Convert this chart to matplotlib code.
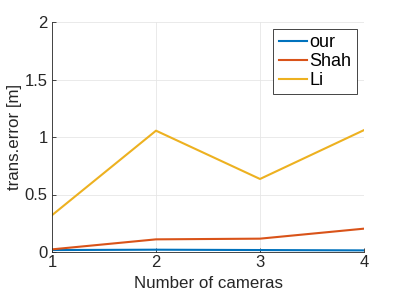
import matplotlib
matplotlib.use("Agg")
import matplotlib.pyplot as plt

cameras = [1, 2, 3, 4]
our = [0.017, 0.020, 0.017, 0.014]
shah = [0.023, 0.11, 0.116, 0.203]
li = [0.32, 1.055, 0.635, 1.06]
yticks = [0, 0.5, 1, 1.5, 2]
ytick_labels = ["0", "0.5", "1", "1.5", "2"]

plt.rcParams['font.family'] = ['Liberation Sans', 'DejaVu Sans']
fig = plt.figure(figsize=(4.03, 2.97), dpi=100)
ax = fig.add_axes([52/403, 1-252/297, (364-52)/403, (252-22)/297])

ax.plot(cameras, our, color='#0072BD', lw=1.5, label='our')
ax.plot(cameras, shah, color='#D95319', lw=1.5, label='Shah')
ax.plot(cameras, li, color='#EDB120', lw=1.5, label='Li')

ax.set_xlim(1, 4)
ax.set_ylim(0, 2)
ax.set_xticks(cameras)
ax.set_yticks(yticks)
ax.set_yticklabels(ytick_labels)
ax.grid(True, color='#e6e6e6', lw=0.6)
ax.set_axisbelow(True)
for s in ['top', 'right']:
    ax.spines[s].set_visible(False)
for s in ['left', 'bottom']:
    ax.spines[s].set_color('#262626')
    ax.spines[s].set_linewidth(0.6)
ax.tick_params(direction='in', length=3, width=0.6, colors='#262626', labelsize=12, pad=3)
ax.tick_params(axis='x', pad=2.5)
ax.set_xlabel('Number of cameras', fontsize=12.2, color='#262626', labelpad=4)
ax.set_ylabel('trans.error [m]', fontsize=12.2, color='#262626', labelpad=2)

leg = ax.legend(loc='upper right', bbox_to_anchor=(357/403, 1-29/297), bbox_transform=fig.transFigure,
                fontsize=13, fancybox=False, framealpha=1, edgecolor='#262626',
                handlelength=1.55, handletextpad=0.15, borderpad=0.3, labelspacing=0.1, borderaxespad=0)
leg.get_frame().set_linewidth(0.6)

fig.savefig('out.png', dpi=100)
